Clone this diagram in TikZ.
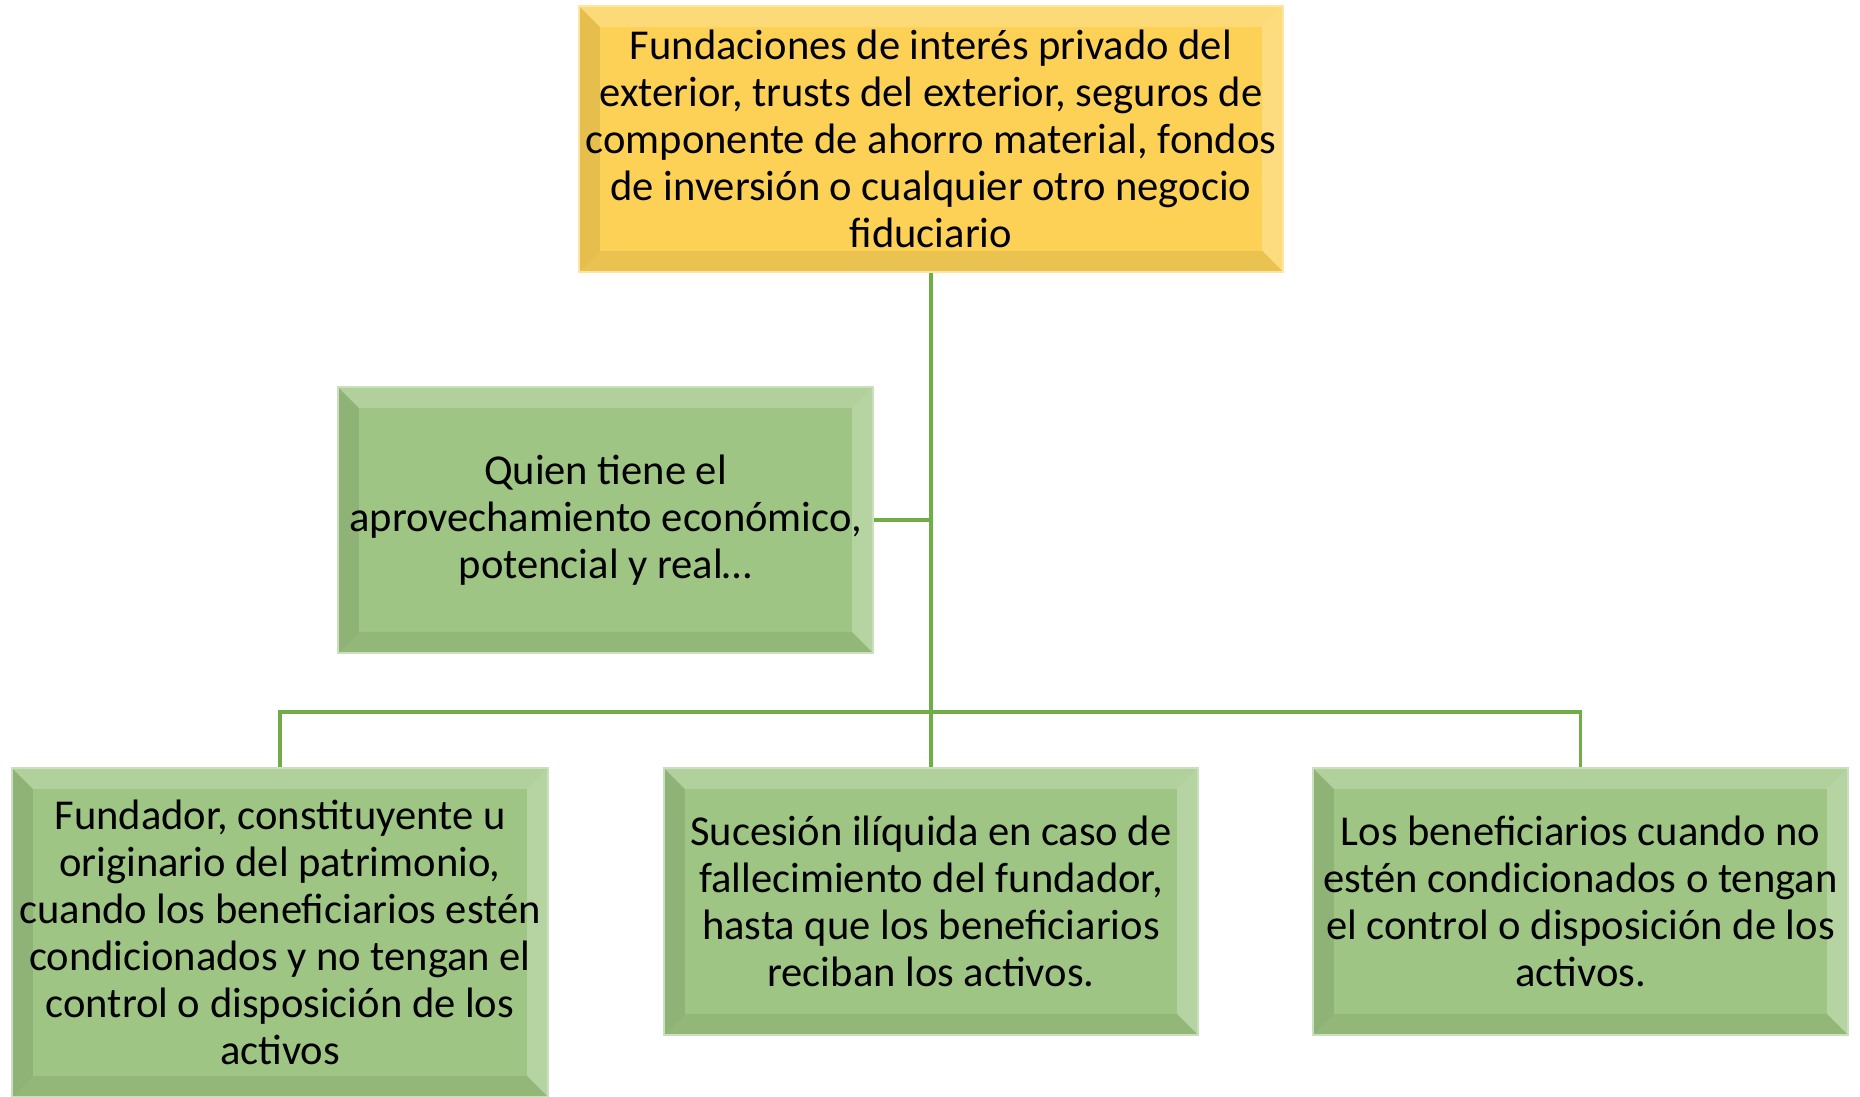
\documentclass[tikz,border=0pt]{standalone}
\usepackage{fontspec}
\setmainfont{Carlito}
\usepackage{tikz}
\usetikzlibrary{calc}

\definecolor{gold}{HTML}{FCD155}
\definecolor{leaf}{HTML}{9EC583}
\definecolor{wire}{HTML}{70AD47}

\begin{document}
\begin{tikzpicture}[x=0.01cm,y=-0.01cm,
    box/.style={
      shape=rectangle,
      draw=#1!55!white,
      line width=0.6pt,
      fill=#1,
      align=center,
      inner sep=2pt,
      font=\fontsize{12.1pt}{13.4pt}\selectfont,
      path picture={
        % bevel: light top and right, dark bottom and left
        \fill[white,opacity=0.2] (path picture bounding box.north west) -- (path picture bounding box.north east)
          -- ([shift={(-6pt,-6pt)}]path picture bounding box.north east) -- ([shift={(6pt,-6pt)}]path picture bounding box.north west) -- cycle;
        \fill[white,opacity=0.25] (path picture bounding box.north east) -- (path picture bounding box.south east)
          -- ([shift={(-6pt,6pt)}]path picture bounding box.south east) -- ([shift={(-6pt,-6pt)}]path picture bounding box.north east) -- cycle;
        \fill[black,opacity=0.07] (path picture bounding box.south west) -- (path picture bounding box.south east)
          -- ([shift={(-6pt,6pt)}]path picture bounding box.south east) -- ([shift={(6pt,6pt)}]path picture bounding box.south west) -- cycle;
        \fill[black,opacity=0.09] (path picture bounding box.north west) -- (path picture bounding box.south west)
          -- ([shift={(6pt,6pt)}]path picture bounding box.south west) -- ([shift={(6pt,-6pt)}]path picture bounding box.north west) -- cycle;
      }
    }]
\tikzset{link/.style = {draw=wire, line width=0.9pt}}
\useasboundingbox (0,0) rectangle (1860,1097);
%\draw (0,0) rectangle (1860,1097);
\node[box=gold, minimum width=7.02cm, minimum height=2.66cm] (top) at (931,139)
  {Fundaciones de interés privado del\\exterior, trusts del exterior, seguros de\\componente de ahorro material, fondos\\de inversión o cualquier otro negocio\\fiduciario};
\node[box=leaf, minimum width=5.35cm, minimum height=2.66cm] (ben) at (605.5,520)
  {Quien tiene el\\aprovechamiento económico,\\potencial y real…};
\node[box=leaf, minimum width=5.36cm, minimum height=3.29cm] (fund) at (280,932.5)
  {Fundador, constituyente u\\originario del patrimonio,\\cuando los beneficiarios estén\\condicionados y no tengan el\\control o disposición de los\\activos};
\node[box=leaf, minimum width=5.34cm, minimum height=2.67cm] (suc) at (931,901.5)
  {Sucesión ilíquida en caso de\\fallecimiento del fundador,\\hasta que los beneficiarios\\reciban los activos.};
\node[box=leaf, minimum width=5.35cm, minimum height=2.67cm] (lib) at (1580.5,901.5)
  {Los beneficiarios cuando no\\estén condicionados o tengan\\el control o disposición de los\\activos.};
\coordinate (hub) at (931,712);
\draw[link] (top.south) -- (suc.north);
\draw[link] (ben.east) -- (ben.east -| top.south);
\draw[link] (fund.north) |- (hub) -| (lib.north);
\end{tikzpicture}
\end{document}
